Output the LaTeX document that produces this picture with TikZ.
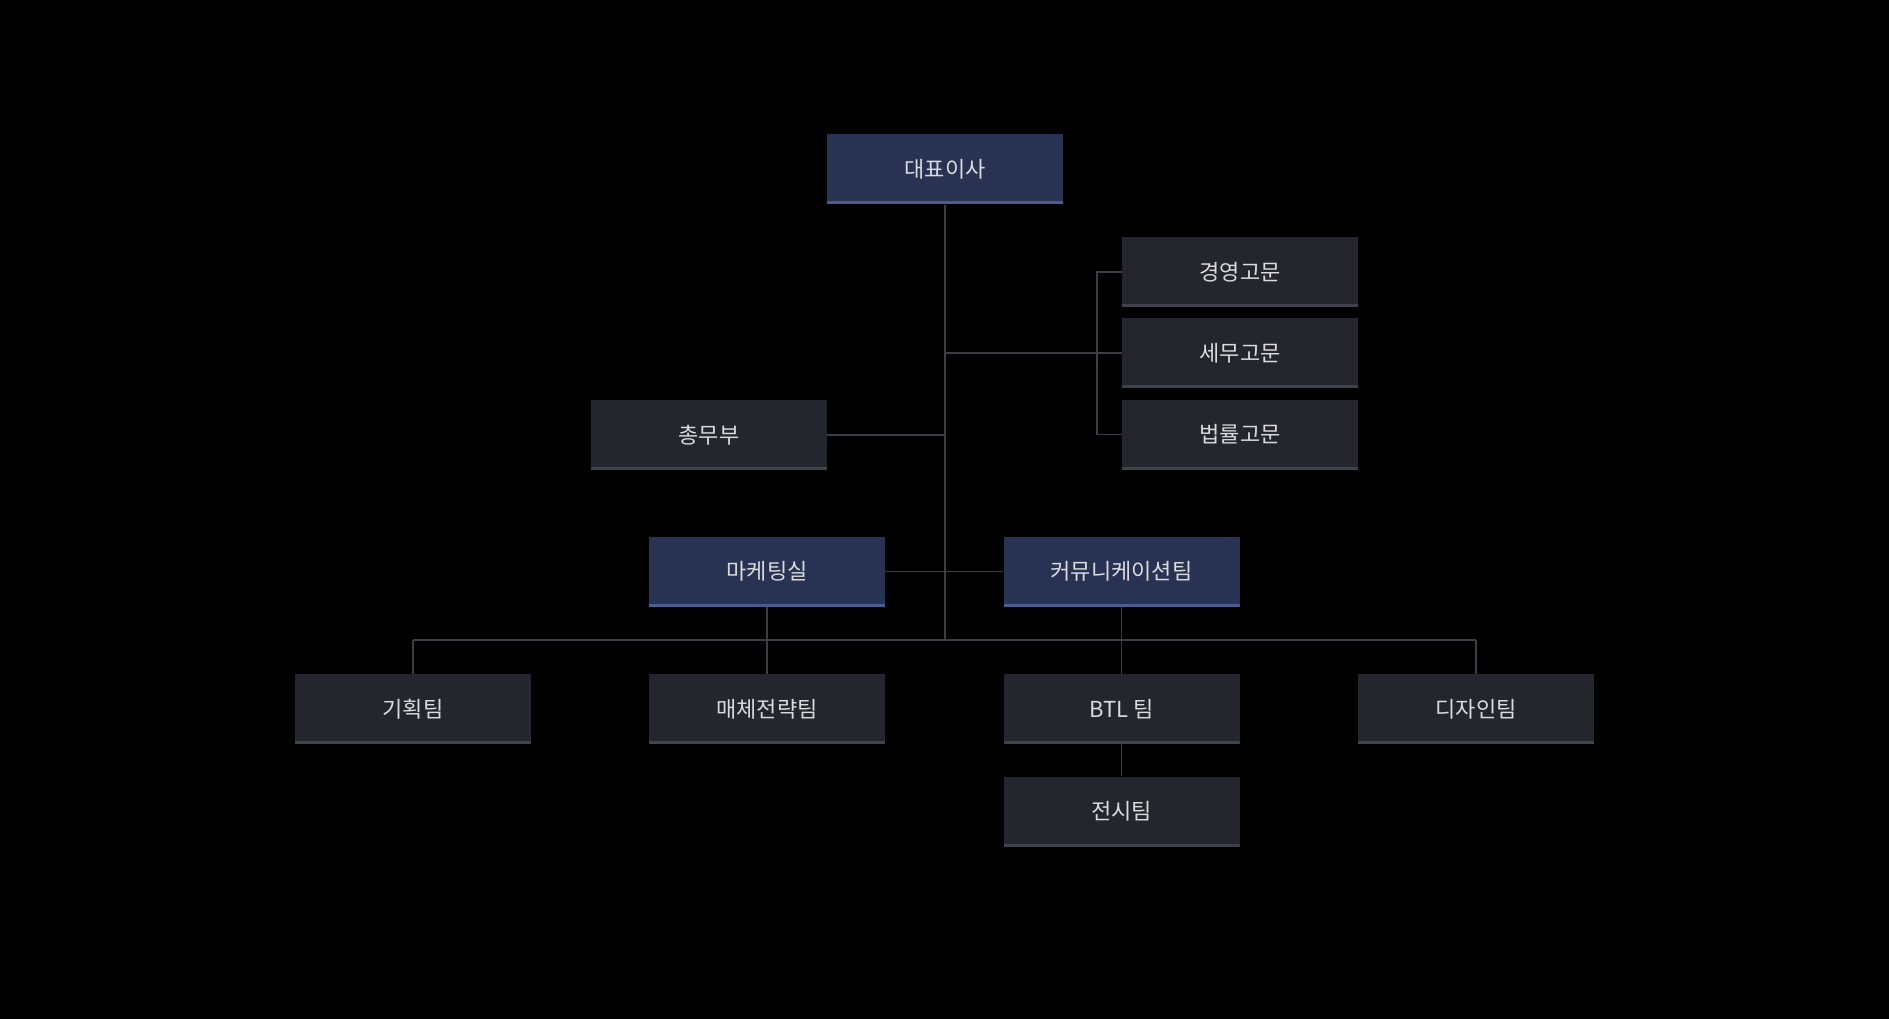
\documentclass[tikz,border=0pt]{standalone}
\usepackage{fontspec}
\setmainfont{Noto Sans CJK KR}
\begin{document}
\begin{tikzpicture}[x=1pt,y=-1pt,
  txt/.style={text=white!86!black, font=\fontsize{22}{26}\selectfont},
  graybox/.style={txt, rectangle, fill=boxgray, minimum width=236pt, minimum height=70pt, inner sep=0pt,
    path picture={\fill[bargray] (path picture bounding box.south west) rectangle ([yshift=3pt]path picture bounding box.south east);}},
  bluebox/.style={txt, rectangle, fill=boxblue, minimum width=236pt, minimum height=70pt, inner sep=0pt,
    path picture={\fill[barblue] (path picture bounding box.south west) rectangle ([yshift=3pt]path picture bounding box.south east);}},
  conn/.style={draw=linecol, line width=1.4pt}]
\definecolor{boxgray}{HTML}{23262D}
\definecolor{bargray}{HTML}{40434E}
\definecolor{boxblue}{HTML}{283354}
\definecolor{barblue}{HTML}{4B5C95}
\definecolor{linecol}{HTML}{3B3E49}
\fill[black] (0,0) rectangle (1889,1019);
\useasboundingbox (0,0) rectangle (1889,1019);

\node[bluebox] (ceo) at (945,169.5) {대표이사};
\node[graybox] (adv1) at (1240,272) {경영고문};
\node[graybox] (adv2) at (1240,353) {세무고문};
\node[graybox] (adv3) at (1240,434.5) {법률고문};
\node[graybox] (gen) at (709,435) {총무부};
\node[bluebox] (mkt) at (767,571.5) {마케팅실};
\node[bluebox] (comm) at (1121.5,571.5) {커뮤니케이션팀};
\node[graybox] (plan) at (413,709) {기획팀};
\node[graybox] (media) at (767,709) {매체전략팀};
\node[graybox] (btl) at (1121.5,709) {BTL 팀};
\node[graybox] (design) at (1476,709) {디자인팀};
\node[graybox] (disp) at (1121.5,811.5) {전시팀};

\coordinate (j) at (945,640);
\coordinate (bx) at (1097,353);

\draw[conn] (ceo.south) -- (j);
\draw[conn] (ceo.south |- adv2.west) -- (adv2.west);
\draw[conn] (adv1.west) -- (adv1.west -| bx) -- (adv3.west -| bx) -- (adv3.west);
\draw[conn] (gen.east) -- (gen.east -| ceo.south);
\draw[conn] (mkt.east) -- (comm.west);
\draw[conn] (plan.north |- j) -- (design.north |- j);
\draw[conn] (plan.north |- j) -- (plan.north);
\draw[conn] (design.north |- j) -- (design.north);
\draw[conn] (mkt.south) -- (media.north);
\draw[conn] (comm.south) -- (btl.north);
\draw[conn] (btl.south) -- (disp.north);
\end{tikzpicture}
\end{document}
